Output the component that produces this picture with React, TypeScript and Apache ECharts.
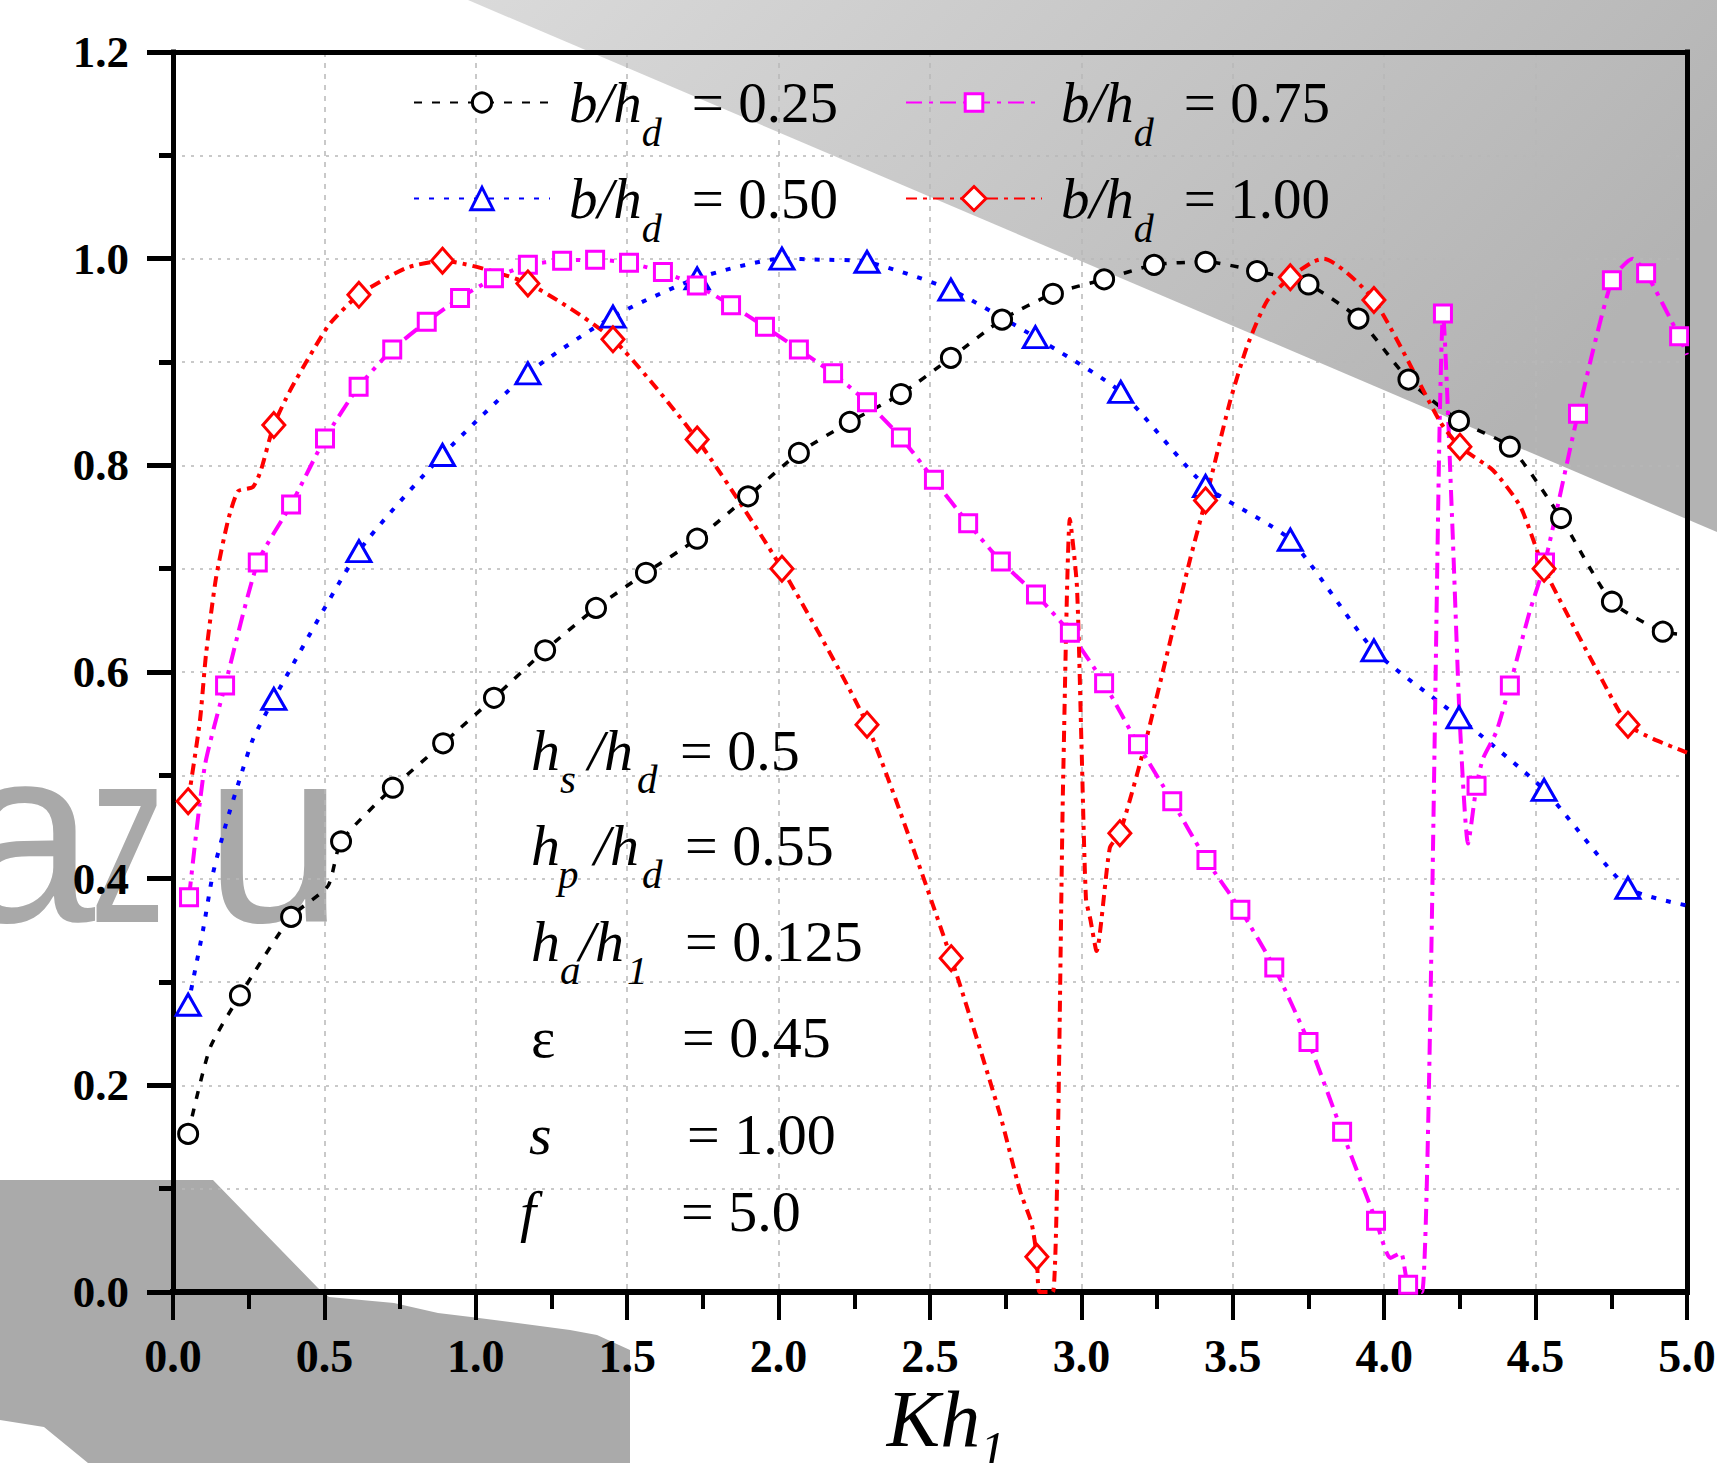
import React, { useEffect, useRef } from "react";
import * as echarts from "echarts";

type P = [number, number];

// ---------------- DATA (Kh1, value) ----------------
// b/h_d = 0.25  (black, circles)
const s025Markers: P[] = [
  [0.05, 0.153], [0.221, 0.287], [0.39, 0.363], [0.555, 0.436], [0.726, 0.488],
  [0.892, 0.531], [1.06, 0.575], [1.229, 0.621], [1.397, 0.662], [1.562, 0.696],
  [1.731, 0.729], [1.899, 0.77], [2.067, 0.812], [2.235, 0.842], [2.404, 0.869],
  [2.569, 0.904], [2.738, 0.941], [2.906, 0.966], [3.075, 0.98], [3.24, 0.994],
  [3.41, 0.997], [3.58, 0.988], [3.75, 0.975], [3.915, 0.942], [4.08, 0.883],
  [4.247, 0.843], [4.415, 0.818], [4.584, 0.749], [4.752, 0.668], [4.92, 0.639],
];
const s025Curve: P[] = [[0.122, 0.236], [0.512, 0.393], [5.0, 0.636]];

// b/h_d = 0.50  (blue, triangles)
const s050Markers: P[] = [
  [0.05, 0.278], [0.333, 0.574], [0.614, 0.717], [0.89, 0.81], [1.172, 0.889],
  [1.453, 0.944], [1.731, 0.981], [2.011, 1.0], [2.292, 0.997], [2.569, 0.97],
  [2.848, 0.924], [3.13, 0.871], [3.41, 0.78], [3.69, 0.728], [3.966, 0.621],
  [4.247, 0.556], [4.528, 0.486], [4.805, 0.391],
];
const s050Curve: P[] = [
  [0.099, 0.35], [0.132, 0.405], [0.175, 0.453], [0.22, 0.496], [0.264, 0.535],
  [2.14, 0.999], [5.0, 0.374],
];

// b/h_d = 0.75  (magenta, squares)
const s075Markers: P[] = [
  [0.053, 0.382], [0.172, 0.587], [0.28, 0.706], [0.39, 0.762], [0.502, 0.826],
  [0.613, 0.876], [0.724, 0.912], [0.838, 0.939], [0.948, 0.962], [1.06, 0.981],
  [1.172, 0.994], [1.285, 0.998], [1.394, 0.999], [1.506, 0.996], [1.618, 0.987],
  [1.73, 0.974], [1.843, 0.955], [1.955, 0.934], [2.067, 0.912], [2.18, 0.889],
  [2.292, 0.861], [2.404, 0.827], [2.513, 0.786], [2.626, 0.744], [2.734, 0.707],
  [2.85, 0.675], [2.962, 0.638], [3.075, 0.589], [3.187, 0.53], [3.3, 0.475],
  [3.413, 0.418], [3.525, 0.37], [3.637, 0.314], [3.75, 0.242], [3.861, 0.155],
  [3.973, 0.069], [4.079, 0.007], [4.194, 0.947], [4.305, 0.49], [4.415, 0.587],
  [4.531, 0.706], [4.64, 0.85], [4.752, 0.979], [4.865, 0.986], [4.974, 0.925],
];
const s075Curve: P[] = [
  [0.105, 0.509], [4.02, 0.033], [4.055, 0.038], [4.125, 0.0], [4.184, 0.853],
  [4.224, 0.75], [4.25, 0.55], [4.277, 0.434], [4.326, 0.516], [4.37, 0.542],
  [4.48, 0.658], [4.82, 1.0], [5.0, 0.907],
];

// b/h_d = 1.00  (red, diamonds)
const s100Markers: P[] = [
  [0.05, 0.475], [0.333, 0.839], [0.614, 0.965], [0.89, 0.998], [1.172, 0.976],
  [1.453, 0.922], [1.731, 0.825], [2.011, 0.7], [2.292, 0.549], [2.57, 0.323],
  [2.853, 0.034], [3.127, 0.444], [3.41, 0.766], [3.69, 0.982], [3.966, 0.96],
  [4.25, 0.818], [4.528, 0.7], [4.805, 0.549],
];
const s100Curve: P[] = [
  [0.089, 0.553], [0.109, 0.617], [0.142, 0.691], [0.182, 0.747], [0.215, 0.775],
  [0.264, 0.779], [0.29, 0.795], [0.386, 0.872], [0.462, 0.911], [0.518, 0.937],
  [0.77, 0.991], [2.73, 0.173], [2.797, 0.098], [2.835, 0.067], [2.862, 0.0],
  [2.906, 0.0], [2.94, 0.5], [2.962, 0.748], [2.985, 0.684], [3.0, 0.533],
  [3.015, 0.381], [3.03, 0.36], [3.05, 0.33], [3.094, 0.43], [3.204, 0.523],
  [3.3, 0.638], [3.358, 0.708], [3.435, 0.796], [3.491, 0.862], [3.547, 0.915],
  [3.613, 0.959], [3.765, 0.997], [3.8, 1.0], [4.185, 0.842], [4.36, 0.795],
  [4.45, 0.76], [4.713, 0.596], [4.89, 0.535], [5.0, 0.522],
];

const legendValues = ["0.25", "0.50", "0.75", "1.00"];
const paramValues = ["0.5", "0.55", "0.125", "0.45", "1.00", "5.0"];

// ---------------- STYLE ----------------
const SERIF = "'Liberation Serif', 'Times New Roman', serif";
const SANS = "'Liberation Sans', Arial, sans-serif";

function buildData(markers: P[], curve: P[]) {
  const pts: any[] = [
    ...markers.map((p) => ({ value: p })),
    ...curve.map((p) => ({ value: p, symbol: "none" })),
  ];
  pts.sort((a, b) => a.value[0] - b.value[0]);
  return pts;
}

const seriesDefs = [
  {
    value: legendValues[0], markers: s025Markers, curve: s025Curve, color: "#000000",
    symbol: "circle", symbolSize: 19, lineType: [8, 10], lineWidth: 3.5, legendPos: [413, 74], legendH: 24,
  },
  {
    value: legendValues[1], markers: s050Markers, curve: s050Curve, color: "#0000ff",
    symbol: "triangle", symbolSize: [24, 21], lineType: [5, 10], lineWidth: 4, legendPos: [413, 170], legendH: 28,
  },
  {
    value: legendValues[2], markers: s075Markers, curve: s075Curve, color: "#ff00ff",
    symbol: "rect", symbolSize: 17, lineType: [16, 7, 4, 7], lineWidth: 4, legendPos: [905, 74], legendH: 22,
  },
  {
    value: legendValues[3], markers: s100Markers, curve: s100Curve, color: "#ff0000",
    symbol: "diamond", symbolSize: [22, 25], lineType: [11, 6, 4, 6], lineWidth: 4, legendPos: [905, 170], legendH: 30,
  },
];

const LEG_LH = 99;
const legendRich = {
  i: {
    fontFamily: SERIF, fontStyle: "italic", fontSize: 57, lineHeight: LEG_LH,
    padding: [0, 0, 0, 14], verticalAlign: "middle", color: "#000",
  },
  sub: {
    fontFamily: SERIF, fontStyle: "italic", fontSize: 40, lineHeight: 40,
    verticalAlign: "bottom", color: "#000",
  },
  n: {
    fontFamily: SERIF, fontSize: 57, lineHeight: LEG_LH,
    padding: [0, 0, 0, 30], verticalAlign: "middle", color: "#000",
  },
};

function txt(x: number, y: number, text: string, size: number, italic: boolean) {
  return {
    type: "text", x, y, z: 20, silent: true,
    style: {
      text, fontFamily: SERIF, fontSize: size, fontStyle: italic ? "italic" : "normal",
      fill: "#000", align: "left", verticalAlign: "middle",
    },
  };
}

function buildAnnotation() {
  const rowY = [750, 845, 941, 1037, 1134, 1211];
  const MAIN = 58, SUB = 41, DY = 29;
  const rows: { parts: [string, number, boolean][]; eqX: number }[] = [
    { parts: [["h", 531, false], ["s", 560, true], ["/h", 588, false], ["d", 637, true]], eqX: 680 },
    { parts: [["h", 531, false], ["p", 558, true], ["/h", 594, false], ["d", 642, true]], eqX: 685 },
    { parts: [["h", 531, false], ["a", 560, true], ["/h", 579, false], ["1", 627, true]], eqX: 685 },
    { parts: [["ε", 531, false]], eqX: 682 },
    { parts: [["s", 529, false]], eqX: 687 },
    { parts: [["f", 520, false]], eqX: 681 },
  ];
  const els: any[] = [];
  rows.forEach((r, i) => {
    const y = rowY[i];
    r.parts.forEach(([t, x, sub]) => {
      const italic = t !== "ε";
      els.push(txt(x, sub ? y + DY : y, t, sub ? SUB : MAIN, italic));
    });
    els.push(txt(r.eqX, y, "= " + paramValues[i], MAIN, false));
  });
  return els;
}

function buildBackground() {
  const els: any[] = [];
  els.push({
    type: "polygon", z: -10, silent: true,
    shape: { points: [[468, 0], [1717, 0], [1717, 532]] },
    style: {
      fill: new echarts.graphic.LinearGradient(0, 0, 1, 0.4, [
        { offset: 0, color: "#dadada" },
        { offset: 1, color: "#b3b3b3" },
      ]),
    },
  });
  els.push({
    type: "polygon", z: -10, silent: true,
    shape: {
      points: [
        [0, 1180], [213, 1180], [318, 1288], [329, 1297], [394, 1303], [438, 1313],
        [471, 1317], [570, 1330], [597, 1335], [630, 1350], [630, 1463], [88, 1463],
        [44, 1427], [0, 1420],
      ],
    },
    style: { fill: "#aaaaaa" },
  });
  const wm = [
    { t: "a", x: 95, sx: 1, align: "right" },
    { t: "z", x: 128, sx: 0.6, align: "center" },
    { t: "u", x: 274, sx: 1, align: "center" },
  ];
  wm.forEach((w) => {
    els.push({
      type: "text", x: w.x, y: 835, scaleX: w.sx, z: -9, silent: true,
      style: {
        text: w.t, fontFamily: SANS, fontSize: 250, fill: "#a9a9a9",
        align: w.align, verticalAlign: "middle",
      },
    });
  });
  return els;
}

export default function App() {
  const ref = useRef<HTMLDivElement>(null);

  useEffect(() => {
    if (!ref.current) return;
    const chart = echarts.init(ref.current, null, { renderer: "svg" });

    const series = seriesDefs.map((s) => ({
      name: "b/h_d = " + s.value,
      type: "line",
      xAxisIndex: 0,
      yAxisIndex: 0,
      data: buildData(s.markers, s.curve),
      smooth: 0.2,
      symbol: s.symbol,
      symbolSize: s.symbolSize,
      showSymbol: true,
      showAllSymbol: true,
      clip: true,
      lineStyle: { color: s.color, width: s.lineWidth, type: s.lineType },
      itemStyle: { color: "#ffffff", borderColor: s.color, borderWidth: 3 },
      emphasis: { disabled: true },
      z: 3,
    }));

    const legends = seriesDefs.map((s) => ({
      show: true,
      data: ["b/h_d = " + s.value],
      left: s.legendPos[0],
      top: s.legendPos[1],
      padding: 0,
      itemWidth: 136,
      itemHeight: s.legendH,
      selectedMode: false,
      formatter: () => `{i|b/h}{sub|d}{n|= ${s.value}}`,
      textStyle: { color: "#000", rich: legendRich },
      itemStyle: { borderWidth: 3 },
    }));

    const NAME_LH = 110;
    const option: any = {
      animation: false,
      backgroundColor: "#ffffff",
      grid: {
        left: 173, right: 30, top: 52, bottom: 171,
        containLabel: false, outerBoundsMode: "none",
      },
      legend: legends,
      xAxis: [
        {
          type: "value", min: 0, max: 5, interval: 0.5, position: "bottom",
          axisLine: { show: true, onZero: false, lineStyle: { color: "#000", width: 6, cap: "square" } },
          axisTick: { show: true, length: 28, lineStyle: { color: "#000", width: 4 } },
          minorTick: { show: true, splitNumber: 2, length: 17, lineStyle: { color: "#000", width: 4 } },
          axisLabel: {
            show: true, margin: 41, formatter: (v: number) => v.toFixed(1),
            fontFamily: SERIF, fontWeight: "bold", fontSize: 46, color: "#000",
          },
          splitLine: { show: true, lineStyle: { color: "#b8b8b8", width: 1.5, type: [5, 6] } },
          minorSplitLine: { show: false },
          name: "{i|Kh}{sub|1}",
          nameLocation: "middle",
          nameGap: 72,
          nameMoveOverlap: false,
          nameTextStyle: {
            rich: {
              i: {
                fontFamily: SERIF, fontStyle: "italic", fontSize: 80, lineHeight: NAME_LH,
                padding: [0, 0, 0, 32], verticalAlign: "middle", color: "#000",
              },
              sub: {
                fontFamily: SERIF, fontStyle: "italic", fontSize: 50, lineHeight: 50,
                padding: [0, 0, 0, 0], verticalAlign: "bottom", color: "#000",
              },
            },
          },
        },
        {
          type: "value", min: 0, max: 5, position: "top",
          axisLine: { show: true, onZero: false, lineStyle: { color: "#000", width: 5, cap: "square" } },
          axisTick: { show: false }, axisLabel: { show: false }, splitLine: { show: false },
        },
      ],
      yAxis: [
        {
          type: "value", min: 0, max: 1.2, interval: 0.2, position: "left",
          axisLine: { show: true, onZero: false, lineStyle: { color: "#000", width: 5, cap: "square" } },
          axisTick: { show: true, length: 26, lineStyle: { color: "#000", width: 5 } },
          minorTick: { show: true, splitNumber: 2, length: 14, lineStyle: { color: "#000", width: 5 } },
          axisLabel: {
            show: true, margin: 44, formatter: (v: number) => v.toFixed(1),
            fontFamily: SERIF, fontWeight: "bold", fontSize: 45, color: "#000",
          },
          splitLine: { show: true, lineStyle: { color: "#b8b8b8", width: 1.5, type: [3, 6] } },
          minorSplitLine: { show: true, lineStyle: { color: "#b8b8b8", width: 1.5, type: [3, 6] } },
        },
        {
          type: "value", min: 0, max: 1.2, position: "right",
          axisLine: { show: true, onZero: false, lineStyle: { color: "#000", width: 5, cap: "square" } },
          axisTick: { show: false }, axisLabel: { show: false }, splitLine: { show: false },
        },
      ],
      graphic: { elements: [...buildBackground(), ...buildAnnotation()] },
      series,
    };

    chart.setOption(option);
    return () => chart.dispose();
  }, []);

  return (
    <div
      ref={ref}
      style={{ position: "fixed", left: 0, top: 0, width: 1717, height: 1463, background: "#fff" }}
    />
  );
}
